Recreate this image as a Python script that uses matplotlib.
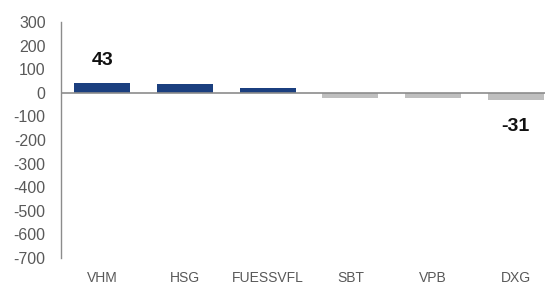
import matplotlib
matplotlib.use("Agg")
import matplotlib.pyplot as plt

categories = ["VHM", "HSG", "FUESSVFL", "SBT", "VPB", "DXG"]
values = [43, 38, 21, -20, -24, -31]
annotated = {0: "43", 5: "-31"}
yticks = [300, 200, 100, 0, -100, -200, -300, -400, -500, -600, -700]

plt.rcParams['font.family'] = ['Liberation Sans', 'DejaVu Sans']

fig = plt.figure(figsize=(5.45, 2.85), dpi=100)
W, H = 545, 285
ax = fig.add_axes([61 / W, (H - 258) / H, 496 / W, (258 - 22) / H])

colors = ["#1B3F7F" if v >= 0 else "#BFBFBF" for v in values]
x = list(range(len(categories)))
ax.bar(x, values, width=0.68, color=colors, zorder=2)
ax.axhline(0, color="#8C8C8C", lw=1.2, zorder=3)

for i, txt in annotated.items():
    v = values[i]
    if v >= 0:
        ax.annotate(txt, (i, v), xytext=(0, 10), textcoords="offset points",
                    ha="center", va="bottom", fontsize=14, fontweight="bold", color="#111111")
    else:
        ax.annotate(txt, (i, v), xytext=(0, -13), textcoords="offset points",
                    ha="center", va="top", fontsize=14, fontweight="bold", color="#111111")

ax.set_xlim(-0.5, len(categories) - 0.5)
ax.set_ylim(-700, 300)
ax.set_yticks(yticks)
ax.set_yticklabels([str(t) for t in yticks])
ax.set_xticks(x)
ax.set_xticklabels(categories)
ax.tick_params(axis="y", length=0, pad=11, labelsize=11.5, labelcolor="#595959")
ax.tick_params(axis="x", length=0, pad=9, labelsize=10, labelcolor="#595959")
for s in ["top", "right", "bottom"]:
    ax.spines[s].set_visible(False)
ax.spines["left"].set_color("#8C8C8C")
ax.spines["left"].set_linewidth(1.0)

fig.savefig("out.png", dpi=100)
